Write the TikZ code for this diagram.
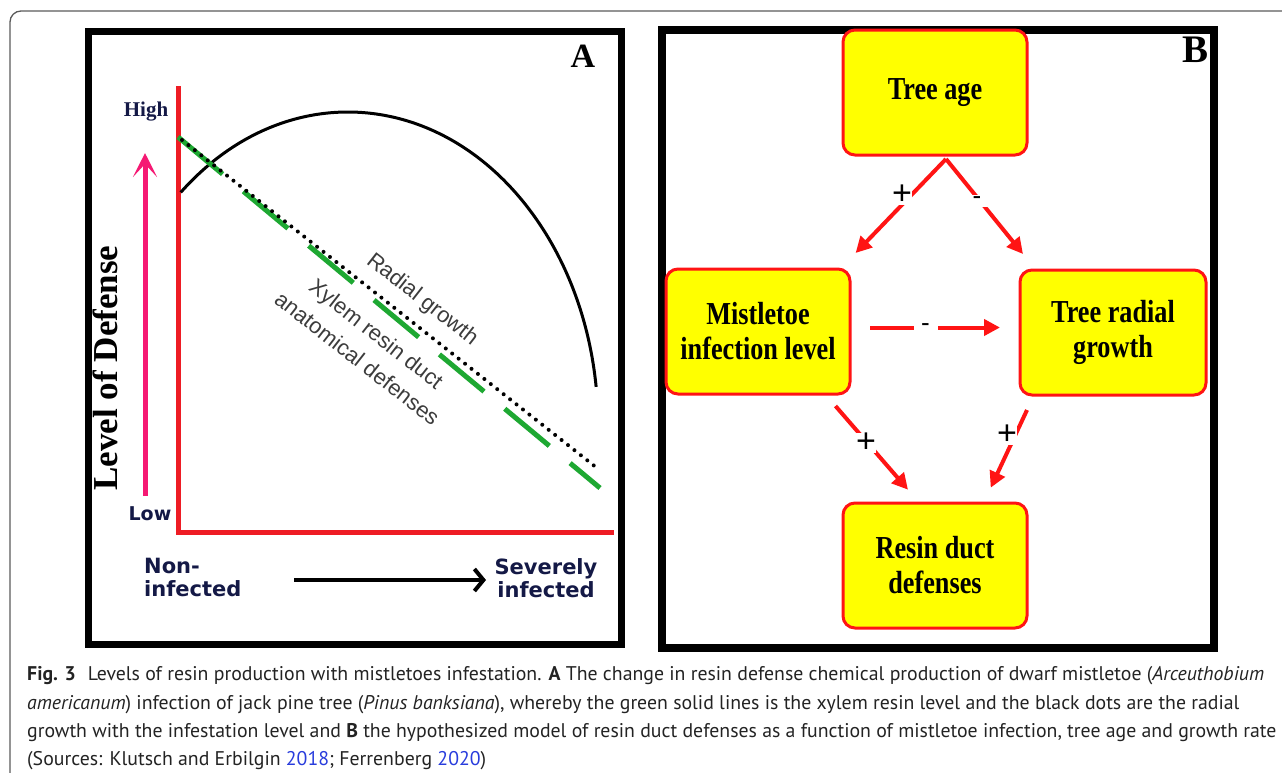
\documentclass[tikz,border=0pt]{standalone}
\usepackage{fontspec}
\setmainfont{Liberation Serif}
\newfontfamily\condserif{Liberation Serif}[FakeStretch=0.82]
\newfontfamily\arialf{Liberation Sans}
\newfontfamily\verdf{DejaVu Sans}
\newfontfamily\capf{PT Sans}
\usetikzlibrary{arrows.meta}
\definecolor{axred}{RGB}{238,28,36}
\definecolor{pinkar}{RGB}{245,25,115}
\definecolor{grn}{RGB}{30,168,50}
\definecolor{boxyel}{RGB}{255,255,0}
\definecolor{boxred}{RGB}{255,20,20}
\definecolor{navy}{RGB}{20,25,70}
\definecolor{txtgray}{RGB}{60,60,60}
\definecolor{capgray}{RGB}{35,35,35}
\definecolor{linkblue}{RGB}{40,60,220}
\definecolor{framegray}{RGB}{90,90,90}
\begin{document}
\begin{tikzpicture}[x=1pt,y=-1pt,
  panel/.style={draw=black},
  box/.style={draw=boxred, fill=boxyel, line width=3, rounded corners=12,
    minimum width=184, minimum height=125, align=center, inner sep=0,
    font=\condserif\bfseries\fontsize{32}{35}\selectfont},
  rarrow/.style={draw=boxred, line width=4, -{Triangle[length=16,width=16]}},
  pluslbl/.style={fill=white, inner sep=0.5, font=\arialf\fontsize{34}{34}\selectfont},
  minuslbl/.style={fill=white, inner sep=0, minimum width=24, minimum height=12, font=\arialf\fontsize{26}{26}\selectfont},
  rotlbl/.style={rotate=-38, text=txtgray, font=\arialf\fontsize{22}{31}\selectfont, align=center},
  axlbl/.style={font=\verdf\bfseries\fontsize{21}{23}\selectfont, text=navy, inner sep=0},
  caption/.style={anchor=base west, inner sep=0, text=capgray, font=\capf\fontsize{19.8}{19.8}\selectfont}
]
\useasboundingbox (0,0) rectangle (1282,772);
\begin{scope}
  \clip (0,0) rectangle (1282,772);
  \draw[framegray, line width=1.3, rounded corners=11] (10,11) rectangle (1300,786);
\end{scope}

% ---------- Panel A ----------
\draw[panel, line width=7] (88.5,31) rectangle (621,644);
\node[font=\bfseries\fontsize{34}{34}\selectfont] (lblA) at (583,56) {A};

\coordinate (yt) at (178,86);
\coordinate (org) at (178,532);
\coordinate (xr) at (614,532);
\draw[axred, line width=5] (yt) -- (org) -- (xr);

\node[font=\bfseries\fontsize{21}{21}\selectfont, text=navy] (high) at (146,112) {High};
\node[axlbl, font=\verdf\bfseries\fontsize{19}{19}\selectfont] (low) at (150,514) {Low};

\coordinate (pb) at (145,496);
\coordinate (pt) at (145,153);
\draw[pinkar, line width=5, -{Stealth[length=24,width=24,inset=13]}] (pb) -- (pt);

\node[rotate=90, font=\bfseries\fontsize{35}{35}\selectfont] (lod) at (105,368) {Level of Defense};

\draw[line width=3] (348,425) ++(-132:250 and 313) coordinate (arcS)
  arc[start angle=-132, end angle=-7, x radius=250, y radius=313] coordinate (arcE);

\coordinate (g1) at (178,137);
\coordinate (g2) at (600,488);
\draw[grn, line width=5, dash pattern=on 58 off 27] (g1) -- (g2);
\coordinate (d1) at (182,140);
\coordinate (d2) at (597,468);
\draw[line width=4, line cap=round, dash pattern=on 0 off 8.2] (d1) -- (d2);

\node[rotlbl] (rg) at (422,300) {Radial growth};
\node[rotlbl] (xy) at (367,346) {Xylem resin duct\\anatomical defenses};

\node[axlbl, anchor=west, align=left] (non) at (144,577) {Non-\\infected};
\node[axlbl, align=center] (sev) at (546,578.5) {Severely\\infected};
\coordinate (ba1) at (294,580);
\coordinate (ba2) at (486,580);
\draw[line width=4, -{Straight Barb[length=9,width=22]}] (ba1) -- (ba2);

% ---------- Panel B ----------
\draw[panel, line width=8] (662,29.5) rectangle (1214,648);
\node[font=\bfseries\fontsize{39}{39}\selectfont] (lblB) at (1195,50) {B};

\node[box] (age) at (935,92.5) {Tree age};
\node[box] (mis) at (758,331.5) {Mistletoe\\infection level};
\node[box, minimum width=186] (rad) at (1113,332.5) {Tree radial\\growth};
\node[box] (res) at (935,565.5) {Resin duct\\defenses};

\coordinate (a0) at (946,159);
\coordinate (a1) at (855.6,253);
\coordinate (a2) at (1023,254);
\coordinate (m0) at (835.5,406);
\coordinate (m1) at (908,489.7);
\coordinate (r0) at (1027,410);
\coordinate (r1) at (990.7,487.7);
\coordinate (h0) at (870,327.5);
\coordinate (h1) at (1000,327.5);

\draw[rarrow] (a0) -- (a1);
\draw[rarrow] (a0) -- (a2);
\draw[rarrow] (m0) -- (m1);
\draw[rarrow] (r0) -- (r1);
\draw[rarrow] (h0) -- (h1);

\node[pluslbl] (p1) at (902,195) {+};
\node[minuslbl] (n1) at (977,201) {-};
\node[pluslbl] (p2) at (866,443) {+};
\node[pluslbl] (p3) at (1007,435) {+};
\node[minuslbl] (n2) at (925.5,327.5) {-};

% ---------- Caption ----------
\node[caption] (c1) at (27,680) {\textbf{Fig. 3}\hspace{0.6em}Levels of resin production with mistletoes infestation. \textbf{A} The change in resin defense chemical production of dwarf mistletoe (\textit{Arceuthobium}};
\node[caption] (c2) at (27,709) {\textit{americanum}) infection of jack pine tree (\textit{Pinus banksiana}), whereby the green solid lines is the xylem resin level and the black dots are the radial};
\node[caption] (c3) at (27,737) {growth with the infestation level and \textbf{B} the hypothesized model of resin duct defenses as a function of mistletoe infection, tree age and growth rate};
\node[caption] (c4) at (27,765) {(Sources: Klutsch and Erbilgin \textcolor{linkblue}{2018}; Ferrenberg \textcolor{linkblue}{2020})};
\end{tikzpicture}
\end{document}
